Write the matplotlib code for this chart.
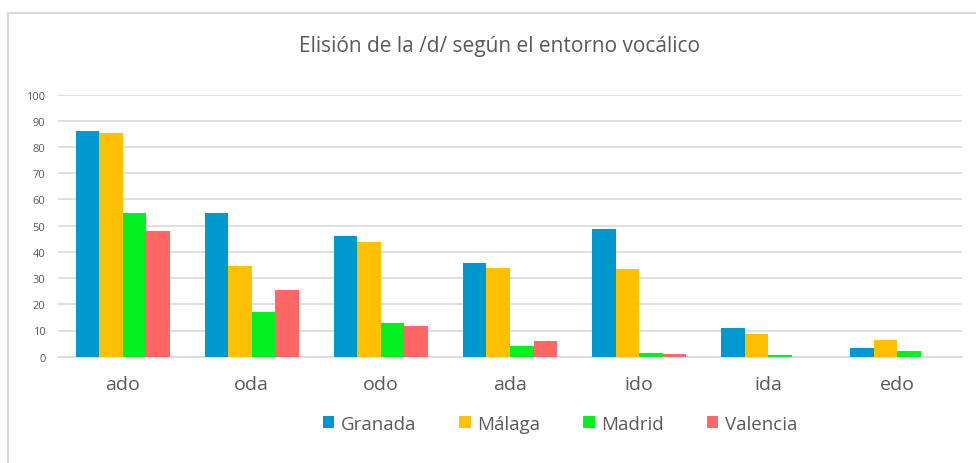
import numpy as np
import matplotlib
matplotlib.use("Agg")
from matplotlib import pyplot as plt
from matplotlib.lines import Line2D

plt.rcParams['font.family'] = ['Open Sans', 'DejaVu Sans']

categories = ['ado', 'oda', 'odo', 'ada', 'ido', 'ida', 'edo']
granada = [86.0, 55.0, 46.1, 35.6, 48.7, 11.0, 3.3]
malaga = [85.4, 34.7, 43.7, 33.9, 33.5, 8.7, 6.4]
madrid = [54.8, 17.1, 12.9, 4.1, 1.5, 0.5, 2.1]
valencia = [47.9, 25.3, 11.7, 6.0, 1.1, 0.0, 0.0]

series = [('Granada', granada, '#0099CF'),
          ('Málaga', malaga, '#FFC000'),
          ('Madrid', madrid, '#00F020'),
          ('Valencia', valencia, '#FF6666')]

txt = '#595959'
W, H = 976, 464
fig = plt.figure(figsize=(W / 100, H / 100), dpi=100)

# outer chart border
fig.add_artist(Line2D([8 / W, 8 / W], [0, 1 - 14 / H], color='#D9D9D9', lw=1.5))
fig.add_artist(Line2D([8 / W, 1], [1 - 14 / H, 1 - 14 / H], color='#D9D9D9', lw=1.5))

ax = fig.add_axes([58 / W, 1 - 357.7 / H, (962 - 58) / W, (357.7 - 95.7) / H])

x = np.arange(len(categories))
bw = 0.182
for i, (name, vals, col) in enumerate(series):
    ax.bar(x + (i - 1.5) * bw, vals, bw, color=col, label=name, zorder=3)

ax.set_xlim(-0.5, len(categories) - 0.5)
ax.set_ylim(0, 100)
ax.set_yticks(np.arange(0, 101, 10))
ax.yaxis.grid(True, color='#D9D9D9', lw=1.2, zorder=0)
ax.tick_params(axis='y', length=0, labelsize=8, labelcolor=txt, pad=9)
ax.tick_params(axis='x', length=0, labelsize=14, labelcolor=txt, pad=13)
ax.set_xticks(x)
ax.set_xticklabels(categories)
for s in ['top', 'right', 'left']:
    ax.spines[s].set_visible(False)
ax.spines['bottom'].set_color('#D9D9D9')
ax.spines['bottom'].set_linewidth(1.2)

fig.text(500 / W, 1 - 47 / H, 'Elisión de la /d/ según el entorno vocálico',
         ha='center', va='center', fontsize=15, color=txt)

leg = fig.legend(loc='center', bbox_to_anchor=(560 / W, 1 - 425 / H), ncol=4,
                 frameon=False, fontsize=13.5, handlelength=0.6, handleheight=0.6,
                 handletextpad=0.35, columnspacing=2.3)
for t in leg.get_texts():
    t.set_color(txt)

fig.savefig('out.png', dpi=100)
